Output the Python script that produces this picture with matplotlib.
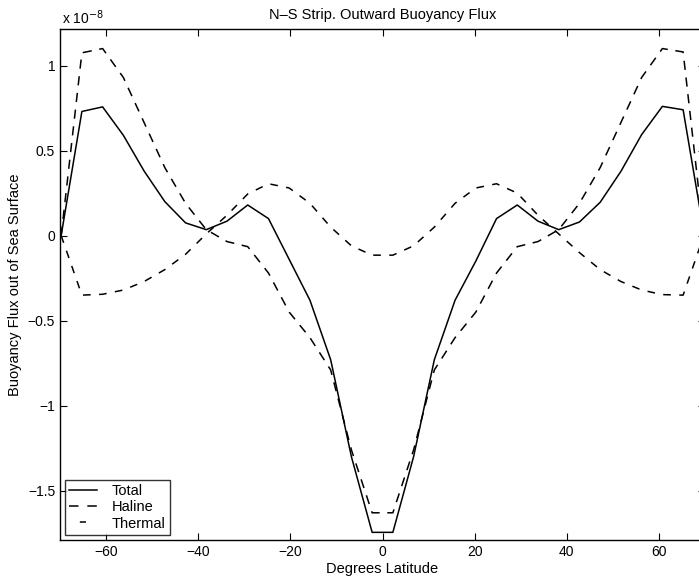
import numpy as np
import matplotlib
matplotlib.use("Agg")
from matplotlib import pyplot as plt

plt.rcParams['font.family'] = ['Liberation Sans', 'DejaVu Sans']

# latitude grid (degrees) and fluxes in units of 1e-8
lat = [-69.75, -65.25, -60.75, -56.25, -51.75, -47.25, -42.75, -38.25,
       -33.75, -29.25, -24.75, -20.25, -15.75, -11.25, -6.75, -2.25,
       2.25, 6.75, 11.25, 15.75, 20.25, 24.75, 29.25, 33.75,
       38.25, 42.75, 47.25, 51.75, 56.25, 60.75, 65.25, 69.75]

total = [0.00, 0.73, 0.757, 0.59, 0.38, 0.20, 0.075, 0.035,
         0.085, 0.18, 0.10, -0.14, -0.38, -0.73, -1.30, -1.745,
         -1.745, -1.30, -0.73, -0.38, -0.15, 0.10, 0.18, 0.085,
         0.035, 0.08, 0.196, 0.378, 0.594, 0.76, 0.74, 0.02]

haline = [0.00, 1.075, 1.10, 0.93, 0.665, 0.40, 0.19, 0.035,
          -0.035, -0.065, -0.22, -0.45, -0.60, -0.79, -1.26, -1.63,
          -1.63, -1.26, -0.79, -0.60, -0.45, -0.22, -0.065, -0.035,
          0.035, 0.19, 0.40, 0.665, 0.93, 1.10, 1.08, 0.00]

thermal = [0.00, -0.35, -0.345, -0.32, -0.27, -0.20, -0.11, 0.01,
           0.12, 0.245, 0.305, 0.28, 0.19, 0.05, -0.06, -0.115,
           -0.115, -0.06, 0.05, 0.19, 0.28, 0.305, 0.25, 0.12,
           0.01, -0.10, -0.20, -0.27, -0.32, -0.347, -0.35, 0.00]

xticks = [-60, -40, -20, 0, 20, 40, 60]
yticks = [-1.5, -1, -0.5, 0, 0.5, 1]
yticklabels = ['\u22121.5', '\u22121', '\u22120.5', '0', '0.5', '1']

fig = plt.figure(figsize=(6.99, 5.84), dpi=100)
# right spine sits just past the image edge, as in the scan
ax = fig.add_axes([60/699, 44/584, 645/699, 511/584])

lw = 1.1
ax.plot(lat, total, color='black', lw=lw, ls='-', label='Total')
ax.plot(lat, haline, color='black', lw=lw, ls=(0, (6, 5)), label='Haline')
ax.plot(lat, thermal, color='black', lw=lw, ls=(0, (5, 5.5)), label='Thermal')

ax.set_xlim(-70, 70)
ax.set_ylim(-1.79, 1.215)
ax.set_xticks(xticks)
ax.set_yticks(yticks)
ax.set_yticklabels(yticklabels)
ax.tick_params(direction='in', top=True, right=True, length=5,
               labelsize=10, width=0.8)
for s in ax.spines.values():
    s.set_linewidth(1.0)

ax.set_title('N\u2013S Strip. Outward Buoyancy Flux', fontsize=10.5, pad=7)
ax.set_xlabel('Degrees Latitude', fontsize=10.5, labelpad=2)
ax.set_ylabel('Buoyancy Flux out of Sea Surface', fontsize=10.5, labelpad=4)
fig.text(62/699, 1 - 18/584, 'x 10$^{-8}$', fontsize=10, va='center', ha='left')

leg = ax.legend(loc='lower left', fontsize=10.5, frameon=True, fancybox=False,
                edgecolor='black', handlelength=1.9, borderaxespad=0.35,
                labelspacing=0.15, borderpad=0.3, handletextpad=1.0)
leg.get_frame().set_linewidth(1.0)
# legend samples: two dashes for Haline, one centred dash for Thermal
hl = leg.get_lines()
hl[1].set_linestyle((0, (6.2, 5.8)))
hl[2].set_linestyle((96.9, (4, 100)))

fig.savefig('out.png', dpi=100)
